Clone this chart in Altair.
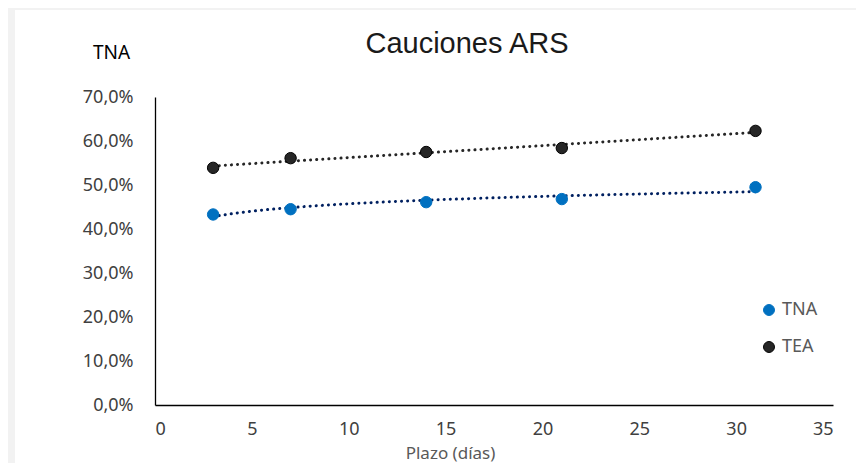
import altair as alt
import pandas as pd

plazo = [3, 7, 14, 21, 31]
tna = [0.433, 0.445, 0.461, 0.468, 0.495]
tea = [0.539, 0.561, 0.575, 0.584, 0.623]
series = ["TNA", "TEA"]
point_colors = ["#0070C0", "#262626"]
stroke_colors = ["#0070C0", "#000000"]
trend_colors = {"TNA": "#002060", "TEA": "#262626"}
trend_methods = {"TNA": "log", "TEA": "linear"}
x_ticks = [0, 5, 10, 15, 20, 25, 30, 35]
y_ticks = [0, 0.1, 0.2, 0.3, 0.4, 0.5, 0.6, 0.7]

rows = []
for p, a, b in zip(plazo, tna, tea):
    rows.append({"plazo": p, "valor": a, "serie": "TNA"})
    rows.append({"plazo": p, "valor": b, "serie": "TEA"})
df = pd.DataFrame(rows)

FONT = "Noto Sans"
W, H = 678, 308

xenc = alt.X("plazo:Q", scale=alt.Scale(domain=[0, 35], nice=False, zero=False),
             axis=alt.Axis(values=x_ticks, title="Plazo (días)", grid=False, ticks=False,
                           domainColor="#000000", domainWidth=1.3, zindex=2,
                           labelFont=FONT, labelFontSize=18, labelColor="#404040",
                           labelPadding=15, titleFont=FONT, titleFontSize=17,
                           titleFontWeight="normal", titleColor="#595959",
                           titleX=295, titleY=48, titleAlign="center", titleBaseline="middle"))
yenc = alt.Y("valor:Q", scale=alt.Scale(domain=[0, 0.7], nice=False),
             axis=alt.Axis(values=y_ticks, grid=False, ticks=False, zindex=2,
                           labelExpr="replace(format(datum.value, '.1%'), '.', ',')",
                           domainColor="#000000", domainWidth=1.3,
                           labelFont=FONT, labelFontSize=18, labelColor="#404040",
                           labelPadding=22, title="TNA", titleAngle=0,
                           titleX=-44, titleY=-45, titleAlign="center", titleBaseline="middle",
                           titleFont=FONT, titleFontSize=19, titleFontWeight="normal",
                           titleColor="#000000"))

base = alt.Chart(df)

panel = alt.Chart(pd.DataFrame({"a": [0]})).mark_rect(color="white").encode(
    x=alt.value(-140), x2=alt.value(W + 40), y=alt.value(-87), y2=alt.value(H + 80))

title = alt.Chart(pd.DataFrame({"t": ["Cauciones ARS"]})).mark_text(
    font="Liberation Sans", fontSize=29, color="#1a1a1a", baseline="middle", align="center"
).encode(text="t:N", x=alt.value(312), y=alt.value(-53))

trends = []
for s in series:
    trends.append(
        base.transform_filter(alt.datum.serie == s)
        .transform_regression("plazo", "valor", method=trend_methods[s])
        .mark_line(color=trend_colors[s], strokeWidth=3, strokeCap="round", strokeDash=[0.1, 6])
        .encode(x=xenc, y=yenc)
    )

points = base.mark_point(filled=True, size=130, strokeWidth=1, opacity=1).encode(
    x=xenc, y=yenc,
    color=alt.Color("serie:N", scale=alt.Scale(domain=series, range=point_colors),
                    legend=alt.Legend(title=None, orient="none", legendX=605, legendY=204,
                                      symbolType="circle", symbolSize=120, rowPadding=19,
                                      labelFont=FONT, labelFontSize=18, labelColor="#595959",
                                      symbolStrokeWidth=1, symbolOpacity=1)),
    stroke=alt.Stroke("serie:N", scale=alt.Scale(domain=series, range=stroke_colors), legend=None),
)

chart = alt.layer(panel, title, *trends, points).properties(
    width=W, height=H, background="#f2f2f2",
    padding={"left": 147, "top": 89, "right": 23, "bottom": 58},
    autosize=alt.AutoSizeParams(type="none"),
).configure_view(stroke=None).configure_legend(labelFontSize=18, labelFont=FONT)

chart.save("out.html", embed_options={"renderer": "svg", "actions": False})
